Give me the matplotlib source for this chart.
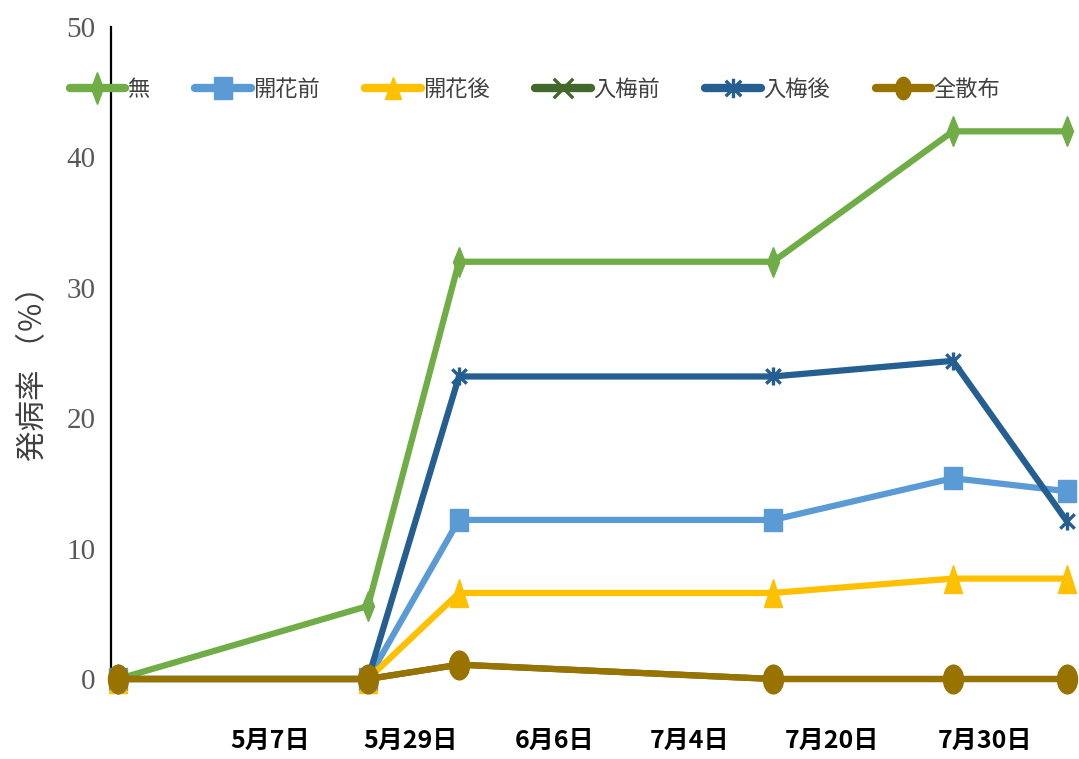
import matplotlib
matplotlib.use('Agg')
import matplotlib.pyplot as plt
from matplotlib.markers import MarkerStyle
from matplotlib.path import Path
from matplotlib.transforms import Affine2D
import numpy as np

plt.rcParams['font.family'] = ['Noto Sans CJK JP', 'DejaVu Sans']

# ── Data ──────────────────────────────────────────────────────────────────────
# survey points on the horizontal scale (days axis is irregular, position units)
sample_pos = [0.7, 25.7, 34.8, 66.2, 84.2, 95.6]
# where the date labels sit on that scale
label_pos = [15.9, 29.9, 44.4, 57.9, 72.1, 87.4]
date_labels = ['5月7日', '5月29日', '6月6日', '7月4日', '7月20日', '7月30日']

series_names = ['無', '開花前', '開花後', '入梅前', '入梅後', '全散布']
none_rate    = [0, 5.6, 32.0, 32.0, 42.0, 42.0]
pre_bloom    = [0, 0, 12.2, 12.2, 15.4, 14.4]
post_bloom   = [0, 0, 6.6, 6.6, 7.7, 7.7]
pre_rain     = [0, 0, 1.1, 0, 0, 0]
post_rain    = [0, 0, 23.2, 23.2, 24.4, 12.1]
all_spray    = [0, 0, 1.1, 0, 0, 0]

# ── Markers ───────────────────────────────────────────────────────────────────
tall = Affine2D().scale(0.8, 1.15)
cross = Path([(-1, -1), (1, 1), (-1, 1), (1, -1)],
             [Path.MOVETO, Path.LINETO, Path.MOVETO, Path.LINETO])
asterisk = Path([(-1, -1), (1, 1), (-1, 1), (1, -1), (0, -1.25), (0, 1.25)],
                [Path.MOVETO, Path.LINETO, Path.MOVETO, Path.LINETO,
                 Path.MOVETO, Path.LINETO])

styles = [
    # values, color, marker, size, hollow
    (none_rate,  '#70AD47', MarkerStyle('d', transform=Affine2D().scale(0.75, 1.2)), 13, False),
    (pre_bloom,  '#5B9BD5', MarkerStyle('s', transform=Affine2D().scale(0.9, 1.1)), 15, False),
    (post_bloom, '#FFC000', MarkerStyle('^', transform=tall), 17, False),
    (pre_rain,   '#43682B', MarkerStyle(cross), 12, True),
    (post_rain,  '#255E91', MarkerStyle(asterisk), 13, True),
    (all_spray,  '#997300', MarkerStyle('o', transform=tall), 18, False),
]

# ── Figure ────────────────────────────────────────────────────────────────────
fig = plt.figure(figsize=(10.79, 7.59), dpi=100)
ax = fig.add_axes([0.1029, 0.1054, 0.897, 0.859])

handles = []
for (vals, color, marker, ms, hollow), name in zip(styles, series_names):
    if hollow:
        ln, = ax.plot(sample_pos, vals, color=color, lw=4.5,
                      marker=marker, ms=ms, mfc='none', mec=color, mew=2.4,
                      solid_capstyle='round', clip_on=False, label=name, zorder=3)
    else:
        ln, = ax.plot(sample_pos, vals, color=color, lw=4.5,
                      marker=marker, ms=ms, mfc=color, mec=color,
                      solid_capstyle='round', clip_on=False, label=name, zorder=3)
    handles.append(ln)

# full-spray line ends on top of the zero baseline
handles[-1].set_zorder(5)

# ── Axes ──────────────────────────────────────────────────────────────────────
ax.set_xlim(0, 96.8)
ax.set_ylim(0, 50)
ax.set_yticks([0, 10, 20, 30, 40, 50])
ax.set_yticklabels(['0', '10', '20', '30', '40', '50'],
                   family='Liberation Serif', fontsize=21, color='#595959')
ax.set_xticks(label_pos)
ax.set_xticklabels(date_labels, fontsize=18, fontweight='bold', color='black')
ax.tick_params(axis='x', length=0, pad=36)
ax.tick_params(axis='y', length=0, pad=11)

for s in ['top', 'right', 'bottom']:
    ax.spines[s].set_visible(False)
ax.spines['left'].set_color('black')
ax.spines['left'].set_linewidth(1.6)

ax.set_ylabel('発病率 （％）', fontsize=22, color='#404040')
ax.yaxis.set_label_coords(-0.064, 0.48)

# ── Legend ────────────────────────────────────────────────────────────────────
leg = fig.legend(handles=handles, loc='center left', ncol=6,
                 bbox_to_anchor=(0.046, 0.882), frameon=False,
                 prop={'size': 16}, handlelength=2.5, handletextpad=0.1,
                 columnspacing=2.05, labelcolor='#404040')
for h in leg.legend_handles:
    h.set_linewidth(6)
    h.set_markersize(14)

fig.savefig('out.png', dpi=100, facecolor='white')
